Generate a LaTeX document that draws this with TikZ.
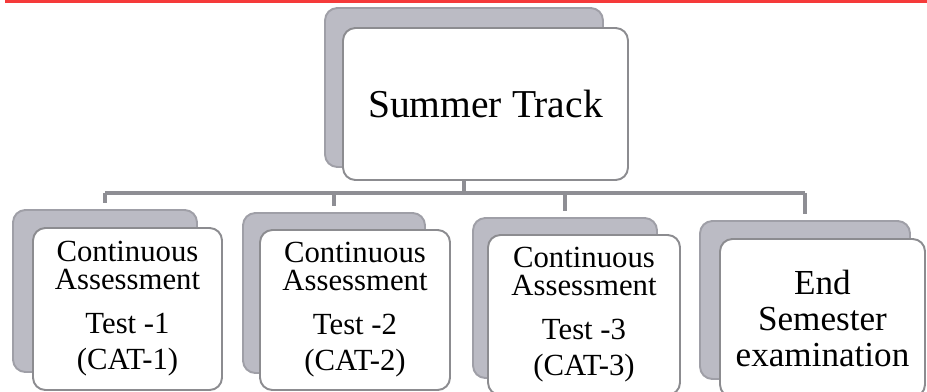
\documentclass[tikz,border=0pt]{standalone}
\usepackage{fontspec}
\setmainfont{Liberation Serif}
\usetikzlibrary{calc}

\definecolor{redbar}{HTML}{F53A3A}
\definecolor{cardline}{HTML}{8C8C90}
\definecolor{cardshade}{HTML}{BBBBC4}
\definecolor{linkgray}{HTML}{8E8E94}

\begin{document}
\begin{tikzpicture}[x=0.02cm,y=-0.02cm,
    card/.style={draw=cardline,line width=1.1pt,fill=white,rounded corners=7pt,
      inner sep=0pt,align=center},
    cardbg/.style={draw=cardshade!85!black,line width=1.1pt,fill=cardshade,rounded corners=7pt,
      inner sep=0pt},
    link/.style={linkgray,line width=2pt},
    small/.style={font=\fontsize{17.5}{16}\selectfont}]
	%fundo e faixa
	\useasboundingbox[fill=white] (0,0) rectangle (927,392);
	\fill[redbar] (5,0) rectangle (927,3.5);
	%caixas de tras
	\node[cardbg,minimum width=5.56cm,minimum height=3.18cm] (track-bg) at (464,87.5) {};
	\node[cardbg,minimum width=3.68cm,minimum height=3.24cm] (cat1-bg) at (105,291) {};
	\node[cardbg,minimum width=3.64cm,minimum height=3.2cm] (cat2-bg) at (334,293) {};
	\node[cardbg,minimum width=3.68cm,minimum height=3.2cm] (cat3-bg) at (565,298) {};
	\node[cardbg,minimum width=4.2cm,minimum height=3.16cm] (exam-bg) at (805,300) {};
	%ligacoes
	\coordinate (bus) at (0,193);
	\draw[link] (track-bg.south) -- (track-bg.south |- bus);
	\draw[link] (cat1-bg.north |- bus) -- (exam-bg.north |- bus);
	\foreach \n in {cat1,cat2,cat3,exam}
		\draw[link,shorten >=1.2mm] (\n-bg.north |- bus) -- (\n-bg.north);
	%caixas da frente
	\node[card,minimum width=5.7cm,minimum height=3.04cm,font=\fontsize{22.5}{24}\selectfont]
		(track) at (485.5,104) {Summer Track};
	\node[card,small,minimum width=3.78cm,minimum height=3.24cm] (cat1) at (127.5,309)
		{Continuous\\Assessment\\[8.5pt]Test -1\\[5pt](CAT-1)};
	\node[card,small,minimum width=3.8cm,minimum height=3.2cm] (cat2) at (355,310)
		{Continuous\\Assessment\\[8.5pt]Test -2\\[5pt](CAT-2)};
	\node[card,small,minimum width=3.84cm,minimum height=3.2cm] (cat3) at (584,315)
		{Continuous\\Assessment\\[8.5pt]Test -3\\[5pt](CAT-3)};
	\node[card,minimum width=4.1cm,minimum height=3.16cm,font=\fontsize{20}{20.5}\selectfont]
		(exam) at (822.5,318) {End\\Semester\\examination};
\end{tikzpicture}
\end{document}
